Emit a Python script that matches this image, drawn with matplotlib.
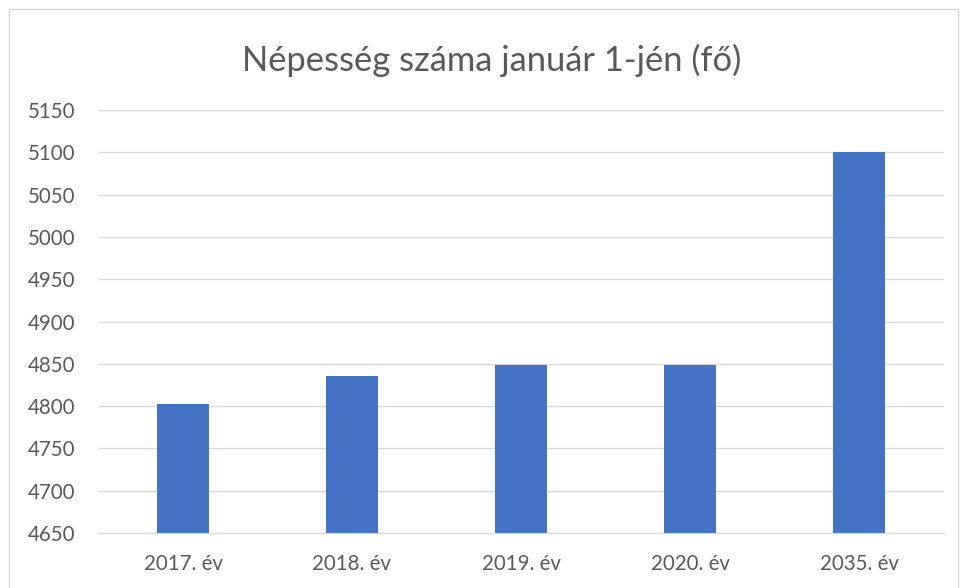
import matplotlib
matplotlib.use("Agg")
import matplotlib.pyplot as plt
from matplotlib.patches import Rectangle

# adatok
categories = ["2017. év", "2018. év", "2019. év", "2020. év", "2035. év"]
values = [4802, 4835, 4849, 4849, 5100]
yticks = [4650, 4700, 4750, 4800, 4850, 4900, 4950, 5000, 5050, 5100, 5150]

plt.rcParams["font.family"] = ["Lato", "DejaVu Sans"]

fig = plt.figure(figsize=(9.6, 5.88), dpi=100)
ax = fig.add_axes([98.5 / 960, 1 - 533 / 588, (943.5 - 98.5) / 960, (533 - 110) / 588])

ax.bar(range(len(categories)), values, width=0.31, color="#4472C4", zorder=3)

ax.set_ylim(4650, 5150)
ax.set_xlim(-0.5, len(categories) - 0.5)
ax.set_yticks(yticks)
ax.set_xticks(range(len(categories)))
ax.set_xticklabels(categories)
ax.yaxis.grid(True, color="#d9d9d9", linewidth=1, zorder=0)
ax.tick_params(axis="both", length=0, labelsize=14.8, colors="#595959")
ax.tick_params(axis="y", pad=16.5)
ax.tick_params(axis="x", pad=15)
for s in ["top", "right", "left"]:
    ax.spines[s].set_visible(False)
ax.spines["bottom"].set_color("#d9d9d9")
ax.spines["bottom"].set_zorder(4)

fig.text(492 / 960, 1 - 60 / 588, "Népesség száma január 1-jén (fő)",
         ha="center", va="center", fontsize=24.8, color="#595959")

# keret
fig.patches.append(Rectangle((9 / 960, -0.01), 949 / 960, 1 - 9 / 588 + 0.01,
                             transform=fig.transFigure, fill=False,
                             edgecolor="#d9d9d9", linewidth=1))

fig.savefig("out.png", dpi=100)
